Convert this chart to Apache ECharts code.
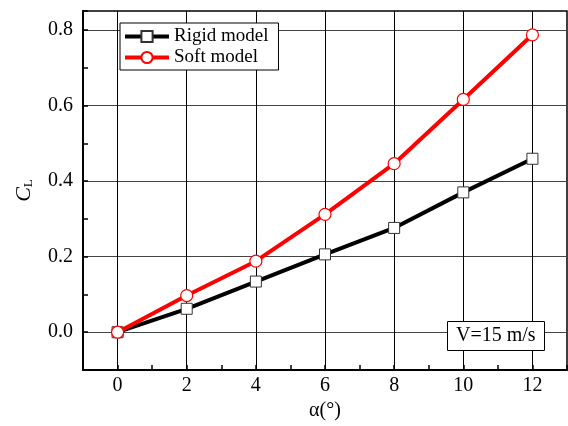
<!DOCTYPE html>
<html>
<head>
<meta charset="utf-8">
<script src="https://cdn.jsdelivr.net/npm/echarts@6/dist/echarts.min.js"></script>
<style>
  html, body { margin: 0; padding: 0; background: #fff; }
  #main { width: 568px; height: 426px; }
</style>
</head>
<body>
<div id="main"></div>
<script>
// angle of attack (deg)
const alpha = [0, 2, 4, 6, 8, 10, 12];
// lift coefficient
const rigid = [0, 0.062, 0.134, 0.206, 0.276, 0.370, 0.459];
const soft = [0, 0.097, 0.188, 0.312, 0.446, 0.616, 0.787];
// tick labels / grid lines
const xMajor = [0, 2, 4, 6, 8, 10, 12];
const yMajor = [0, 0.2, 0.4, 0.6, 0.8];

const font = 'Liberation Serif';
const chart = echarts.init(document.getElementById('main'));

const pairs = (xs, ys) => xs.map((x, i) => [x, ys[i]]);

const option = {
  backgroundColor: '#fff',
  textStyle: { fontFamily: font },
  grid: {
    left: 83, right: 1, top: 11, bottom: 55,
    show: true, borderColor: '#000', borderWidth: 1.5
  },
  title: {
    text: 'V=15 m/s',
    left: 447, top: 321,
    padding: [5, 9],
    borderColor: '#000', borderWidth: 1,
    backgroundColor: '#fff',
    textStyle: { fontFamily: font, fontSize: 20, fontWeight: 'normal', color: '#000' }
  },
  legend: {
    orient: 'vertical',
    left: 120, top: 23,
    padding: [4, 10, 3, 3],
    itemGap: 2,
    itemWidth: 44, itemHeight: 14,
    borderColor: '#000', borderWidth: 1,
    backgroundColor: '#fff',
    lineStyle: { width: 4 },
    textStyle: { fontFamily: font, fontSize: 19, color: '#000' },
    data: ['Rigid model', 'Soft model']
  },
  xAxis: [{
    type: 'value', min: -1, max: 13, interval: 1,
    name: 'α(°)', nameLocation: 'middle', nameGap: 31,
    nameTextStyle: { fontFamily: font, fontSize: 20, color: '#000' },
    axisLine: { onZero: false, lineStyle: { color: '#000', width: 2 } },
    axisTick: { inside: true, length: 5, lineStyle: { color: '#000', width: 1.5 } },
    axisLabel: {
      customValues: xMajor, margin: 6,
      fontFamily: font, fontSize: 20, color: '#000'
    },
    splitLine: { show: false }
  }, {
    type: 'value', min: -1, max: 13, position: 'bottom',
    axisLine: { show: false },
    axisTick: { show: false, customValues: xMajor },
    axisLabel: { show: false },
    splitLine: { show: true, lineStyle: { color: '#000', width: 1 } }
  }],
  yAxis: [{
    type: 'value', min: -0.1, max: 0.85, interval: 0.1,
    name: '{c|C}{s|L}', nameLocation: 'middle', nameGap: 48, nameRotate: 90,
    nameTextStyle: {
      rich: {
        c: { fontFamily: font, fontSize: 22, fontStyle: 'italic', color: '#000' },
        s: { fontFamily: font, fontSize: 13, color: '#000', padding: [9, 0, 0, 0] }
      }
    },
    axisLine: { onZero: false, lineStyle: { color: '#000', width: 2 } },
    axisTick: { inside: true, length: 5, lineStyle: { color: '#000', width: 1.5 } },
    axisLabel: {
      customValues: yMajor, margin: 10,
      fontFamily: font, fontSize: 20, color: '#000',
      formatter: v => v.toFixed(1)
    },
    splitLine: { show: false }
  }, {
    type: 'value', min: -0.1, max: 0.85, position: 'left',
    axisLine: { show: false },
    axisTick: { show: false, customValues: yMajor },
    axisLabel: { show: false },
    splitLine: { show: true, lineStyle: { color: '#444', width: 1 } }
  }],
  series: [{
    name: 'Rigid model',
    type: 'line',
    data: pairs(alpha, rigid),
    symbol: 'rect', symbolSize: 11,
    lineStyle: { color: '#000', width: 4 },
    itemStyle: { color: '#fff', borderColor: '#333', borderWidth: 1 },
    z: 3
  }, {
    name: 'Soft model',
    type: 'line',
    data: pairs(alpha, soft),
    symbol: 'circle', symbolSize: 12,
    lineStyle: { color: '#f00', width: 4 },
    itemStyle: { color: '#fff', borderColor: '#f00', borderWidth: 1.2 },
    z: 4
  }]
};

chart.setOption(option);
</script>
</body>
</html>
